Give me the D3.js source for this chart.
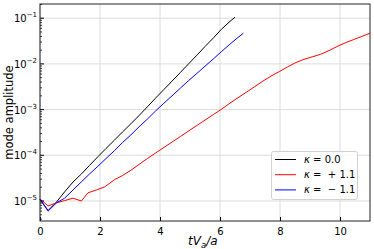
<!DOCTYPE html>
<html><head><meta charset="utf-8">
<script src="https://cdn.jsdelivr.net/npm/d3@7"></script>
<style>body{margin:0;background:#fff}svg{display:block}text{white-space:pre}</style>
</head><body>
<svg id="c" width="374" height="249"></svg>
<script>
const tBlack = [0,0.27,0.55,0.82,1.1,1.38,1.65,1.93,2.2,2.48,2.75,3.03,3.3,3.58,3.85,4.13,4.4,4.68,4.95,5.23,5.5,5.78,6.05,6.33,6.5];
const ampBlack = [1.07e-5,6.2e-6,9.5e-6,1.58e-5,2.6e-5,3.9e-5,6.0e-5,9.3e-5,1.41e-4,2.14e-4,3.24e-4,4.9e-4,7.4e-4,1.15e-3,1.78e-3,2.75e-3,4.2e-3,6.5e-3,1.0e-2,1.55e-2,2.4e-2,3.7e-2,5.75e-2,8.5e-2,0.105];
const tRed = [0,0.27,0.55,0.82,1.1,1.38,1.6,1.88,2.16,2.49,2.75,3.03,3.3,3.58,3.85,4.13,4.4,4.68,4.95,5.23,5.5,5.78,6.05,6.33,6.6,6.88,7.15,7.43,7.7,7.98,8.25,8.53,8.8,9.08,9.35,9.63,9.9,10.18,10.45,10.73,11.0];
const ampRed = [1.10e-5,7.8e-6,9.1e-6,1.02e-5,1.15e-5,1.0e-5,1.51e-5,1.74e-5,2.04e-5,2.95e-5,3.6e-5,4.7e-5,6.3e-5,8.5e-5,1.12e-4,1.48e-4,1.95e-4,2.57e-4,3.4e-4,4.5e-4,5.9e-4,7.8e-4,1.02e-3,1.38e-3,1.82e-3,2.4e-3,3.16e-3,4.2e-3,5.4e-3,6.8e-3,8.6e-3,1.07e-2,1.26e-2,1.43e-2,1.62e-2,1.95e-2,2.4e-2,2.9e-2,3.4e-2,4.0e-2,4.7e-2];
const tBlue = [0,0.27,0.55,0.82,1.1,1.38,1.65,1.93,2.2,2.48,2.75,3.03,3.3,3.58,3.85,4.13,4.4,4.68,4.95,5.23,5.5,5.78,6.05,6.33,6.6,6.78];
const ampBlue = [1.10e-5,6.0e-6,9.1e-6,1.15e-5,1.74e-5,2.63e-5,3.9e-5,5.75e-5,8.5e-5,1.26e-4,1.9e-4,2.8e-4,4.2e-4,6.2e-4,9.3e-4,1.38e-3,2.0e-3,2.95e-3,4.3e-3,6.2e-3,8.9e-3,1.29e-2,1.86e-2,2.7e-2,3.8e-2,4.7e-2];
const seriesNames = ["0.0", "+ 1.1", "− 1.1"];
const seriesColors = ["#000000", "#ff0000", "#0000ff"];
const xTicks = [0,2,4,6,8,10];
const yTickExps = [-5,-4,-3,-2,-1];

const svg = d3.select("#c");
const L = 40, R = 370, T = 4, B = 221;
const x = d3.scaleLinear().domain([0, 11]).range([L, R]);
const y = d3.scaleLog().domain([Math.pow(10,-5.438), Math.pow(10,-0.689)]).range([B, T]);

// grid
const g = svg.append("g");
g.selectAll(".gx").data(xTicks).join("line")
  .attr("x1", d => x(d)).attr("x2", d => x(d)).attr("y1", T).attr("y2", B)
  .attr("stroke", "#dcdcdc").attr("stroke-width", 1);
g.selectAll(".gy").data(yTickExps).join("line")
  .attr("x1", L).attr("x2", R).attr("y1", d => y(Math.pow(10,d))).attr("y2", d => y(Math.pow(10,d)))
  .attr("stroke", "#dcdcdc").attr("stroke-width", 1);

// lines
const series = [[tBlack, ampBlack], [tRed, ampRed], [tBlue, ampBlue]];
const line = d3.line().x(d => x(d[0])).y(d => y(d[1]));
series.forEach((s, i) => {
  const pts = s[0].map((t, j) => [t, s[1][j]]);
  svg.append("path").datum(pts).attr("d", line).attr("fill", "none")
    .attr("stroke", seriesColors[i]).attr("stroke-width", 1);
});

// axes
const xAxis = d3.axisBottom(x).tickValues(xTicks).tickSizeInner(-4).tickSizeOuter(0).tickPadding(7).tickFormat(d3.format("d"));
const gxA = svg.append("g").attr("transform", `translate(0,${B})`).call(xAxis);
gxA.select(".domain").remove();
gxA.selectAll("text").attr("font-family", "DejaVu Sans").attr("font-size", 10).attr("fill", "#000");
gxA.selectAll("line").attr("stroke", "#000");

const minors = [];
for (let e = -6; e <= -1; e++) for (let k = 2; k <= 9; k++) {
  const v = k * Math.pow(10, e);
  if (v >= y.domain()[0] && v <= y.domain()[1]) minors.push(v);
}
svg.append("g").selectAll("line").data(minors).join("line")
  .attr("x1", L).attr("x2", L + 2).attr("y1", d => y(d)).attr("y2", d => y(d))
  .attr("stroke", "#000").attr("stroke-width", 0.8);
svg.append("g").selectAll("line").data(yTickExps).join("line")
  .attr("x1", L).attr("x2", L + 4).attr("y1", d => y(Math.pow(10,d))).attr("y2", d => y(Math.pow(10,d)))
  .attr("stroke", "#000").attr("stroke-width", 1);
const yl = svg.append("g").selectAll("text").data(yTickExps).join("text")
  .attr("x", L - 3).attr("y", d => y(Math.pow(10,d)) + 4)
  .attr("text-anchor", "end").attr("font-family", "DejaVu Sans").attr("font-size", 10);
yl.append("tspan").text("10");
yl.append("tspan").attr("dy", -5).attr("font-size", 7).text(d => "−" + Math.abs(d));

// frame
svg.append("rect").attr("x", L).attr("y", T).attr("width", R - L).attr("height", B - T)
  .attr("fill", "none").attr("stroke", "#222").attr("stroke-width", 1);

// axis labels
const xl = svg.append("text").attr("x", 188).attr("y", 245)
  .attr("font-family", "DejaVu Sans").attr("font-size", 12).attr("font-style", "italic");
xl.append("tspan").text("tV");
xl.append("tspan").attr("font-size", 8.5).attr("dy", 2.5).text("a");
xl.append("tspan").attr("dy", -2.5).text("/a");
svg.append("text").attr("transform", `translate(13,${(T + B) / 2}) rotate(-90)`)
  .attr("text-anchor", "middle").attr("font-family", "DejaVu Sans").attr("font-size", 11.5)
  .text("mode amplitude");

// legend
const lg = svg.append("g");
lg.append("rect").attr("x", 271.5).attr("y", 151.5).attr("width", 86).attr("height", 48).attr("rx", 2)
  .attr("fill", "#fff").attr("fill-opacity", 0.85).attr("stroke", "#d0d0d0");
seriesNames.forEach((n, i) => {
  const yy = 159.5 + i * 15.2;
  lg.append("line").attr("x1", 275).attr("x2", 296).attr("y1", yy).attr("y2", yy)
    .attr("stroke", seriesColors[i]).attr("stroke-width", 1);
  const t = lg.append("text").attr("x", 304).attr("y", yy + 3.5).attr("font-family", "DejaVu Sans").attr("font-size", 10);
  t.append("tspan").attr("font-style", "italic").text("κ");
  t.append("tspan").text(i === 0 ? " = " : " =  ");
  t.append("tspan").text(n);
});
</script>
</body></html>
